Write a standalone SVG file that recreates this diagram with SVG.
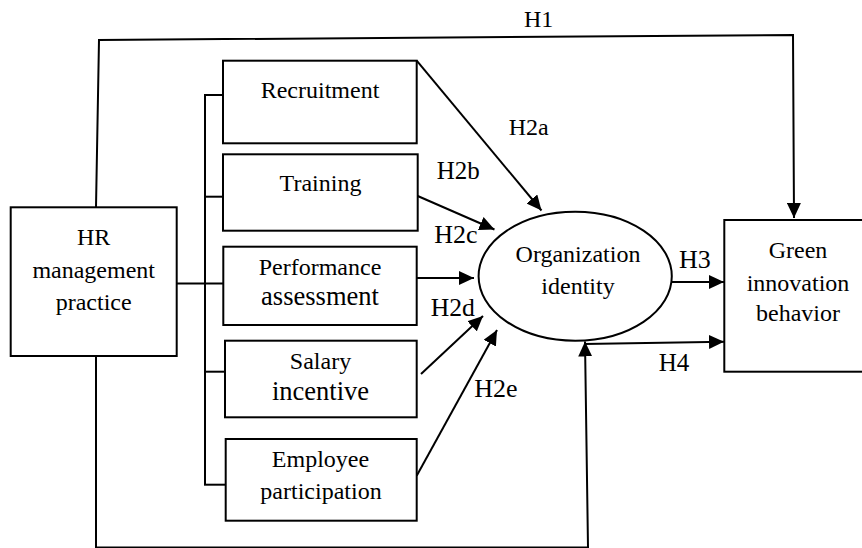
<svg xmlns="http://www.w3.org/2000/svg" width="862" height="548" viewBox="0 0 862 548" font-family="'Liberation Serif', 'DejaVu Serif', serif">
<style>
.box{fill:#fff;stroke:#000;stroke-width:2}
.ln{fill:none;stroke:#000;stroke-width:2}
text{font-family:'Liberation Serif','DejaVu Serif',serif;font-size:24px;fill:#000}
.t{text-anchor:middle}
.tb{font-size:26.5px}
</style>
<defs>
<marker id="ah" markerUnits="userSpaceOnUse" markerWidth="15" markerHeight="14" refX="15" refY="7" orient="auto">
<path d="M0,0 L15,7 L0,14 z" fill="#000"/>
</marker>
</defs>
<rect width="862" height="548" fill="#fff"/>
<g id="connectors">
<polyline class="ln" points="96,207 99,40 793,35 794,218" marker-end="url(#ah)"/>
<line class="ln" x1="176.7" y1="283.5" x2="223" y2="283.5"/>
<line class="ln" x1="205" y1="94" x2="205" y2="485"/>
<line class="ln" x1="204" y1="95" x2="223" y2="95"/>
<line class="ln" x1="204" y1="196.7" x2="223" y2="196.7"/>
<line class="ln" x1="204" y1="371.7" x2="225" y2="371.7"/>
<line class="ln" x1="204" y1="484.7" x2="225.7" y2="484.7"/>
<line class="ln" x1="416.7" y1="60.7" x2="541.5" y2="210.5" marker-end="url(#ah)"/>
<line class="ln" x1="417.7" y1="196" x2="494.5" y2="229.5" marker-end="url(#ah)"/>
<line class="ln" x1="416.7" y1="278" x2="474" y2="278" marker-end="url(#ah)"/>
<line class="ln" x1="421" y1="374" x2="483" y2="316" marker-end="url(#ah)"/>
<line class="ln" x1="416.7" y1="475.7" x2="497" y2="330" marker-end="url(#ah)"/>
<line class="ln" x1="671.7" y1="282" x2="724" y2="282" marker-end="url(#ah)"/>
<line class="ln" x1="584" y1="344" x2="724" y2="341.7" marker-end="url(#ah)"/>
<polyline class="ln" points="96,356 96,547.5 588,547.5 585,341.5" marker-end="url(#ah)"/>
</g>
<g id="hr">
<rect class="box" x="10.7" y="207.3" width="166" height="148.7"/>
<text class="t" x="93.7" y="245">HR</text>
<text class="t" x="93.7" y="277.7">management</text>
<text class="t" x="93.7" y="310">practice</text>
</g>
<g id="recruitment">
<rect class="box" x="223" y="60.7" width="193.7" height="82.6"/>
<text class="t" x="320" y="98">Recruitment</text>
</g>
<g id="training">
<rect class="box" x="223" y="154.3" width="194.7" height="76.4"/>
<text class="t" x="320.5" y="191">Training</text>
</g>
<g id="performance">
<rect class="box" x="223.3" y="246.7" width="193.4" height="78.3"/>
<text class="t" x="320" y="275">Performance</text>
<text class="t tb" x="320" y="305">assessment</text>
</g>
<g id="salary">
<rect class="box" x="225" y="340.7" width="191.7" height="76.6"/>
<text class="t" x="320.5" y="369">Salary</text>
<text class="t tb" x="320.5" y="400">incentive</text>
</g>
<g id="employee">
<rect class="box" x="225.7" y="439" width="191" height="81.7"/>
<text class="t" x="320.5" y="467">Employee</text>
<text class="t" x="321" y="499">participation</text>
</g>
<g id="organization">
<ellipse class="box" cx="575.2" cy="276.2" rx="96.6" ry="64.5"/>
<text class="t" x="578" y="261.5">Organization</text>
<text class="t" x="578" y="294">identity</text>
</g>
<g id="green">
<rect class="box" x="724.3" y="220" width="140" height="151.7"/>
<text class="t" x="798" y="258">Green</text>
<text class="t" x="798" y="290.5">innovation</text>
<text class="t" x="798" y="321">behavior</text>
</g>
<g id="labels">
<text x="524" y="27">H1</text>
<text x="508.7" y="135">H2a</text>
<text x="436.7" y="179.3" style="font-size:25px">H2b</text>
<text x="434.3" y="243.3" style="font-size:26px">H2c</text>
<text x="430.7" y="315.7" style="font-size:25.7px">H2d</text>
<text x="474.3" y="397.3" style="font-size:26px">H2e</text>
<text x="679" y="268.3" style="font-size:26px">H3</text>
<text x="658.7" y="370.7" style="font-size:25px">H4</text>
</g>
</svg>
